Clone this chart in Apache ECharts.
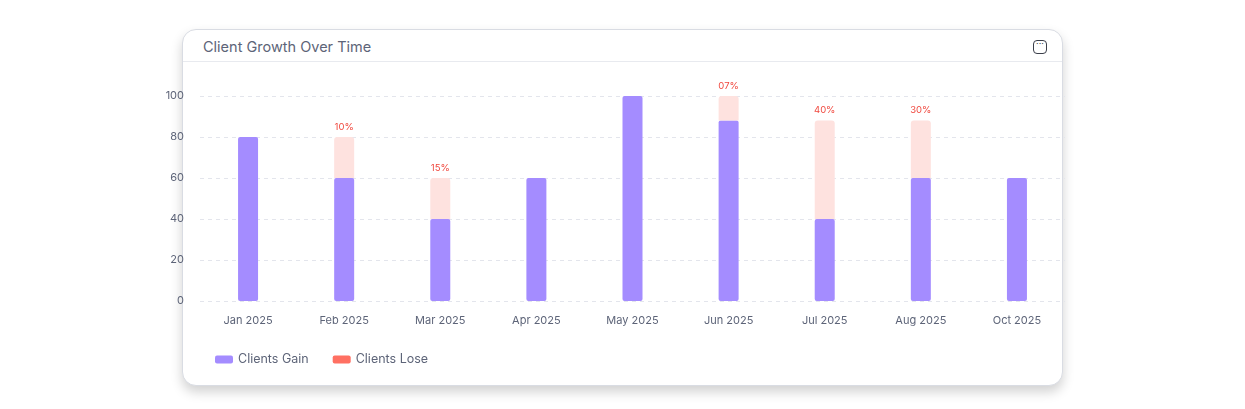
<!DOCTYPE html><html><head><meta charset="utf-8">
<script src="https://cdn.jsdelivr.net/npm/echarts@6/dist/echarts.min.js"></script>
<style>
body{margin:0;background:#fff;font-family:Inter,"Noto Sans",sans-serif;}
#card{position:absolute;left:182px;top:29px;width:879px;height:355px;border:1px solid #d9dce3;border-radius:14px;box-shadow:0 6px 12px rgba(0,0,0,0.18);background:#fff;overflow:hidden}
#hdr{height:31px;border-bottom:1px solid #e8eaef;}
#title{position:absolute;left:20px;top:8px;font-size:14.5px;color:#5d6478}
#icon{position:absolute;right:15px;top:10px;width:12px;height:12px;border:1.4px solid #3b3f4a;border-radius:4px;font-size:9px;line-height:6px;text-align:center;color:#3b3f4a}
#chart{position:absolute;left:0;top:0;width:1245px;height:409px}
</style></head><body>
<div id="card"><div id="hdr"></div><div id="title">Client Growth Over Time</div><div id="icon">···</div></div>
<div id="chart"></div>
<script>
const categories=["Jan 2025","Feb 2025","Mar 2025","Apr 2025","May 2025","Jun 2025","Jul 2025","Aug 2025","Oct 2025"];
const gain=[80,60,40,60,100,88,40,60,60];
const lose=[0,20,20,0,0,12,48,28,0];
const loseLabels=["","10%","15%","","","07%","40%","30%",""];
const yTicks=[0,20,40,60,80,100];
const c=echarts.init(document.getElementById('chart'));
c.setOption({
 animation:false,
 grid:{left:200,right:180,top:96,bottom:108},
 legend:{left:210,top:348,itemWidth:18,itemHeight:8,itemGap:24,icon:'roundRect',textStyle:{color:'#5d6478',fontSize:12.5,fontFamily:'Inter'},
   data:[{name:'Clients Gain',itemStyle:{color:'#a48cff'}},{name:'Clients Lose',itemStyle:{color:'#ff7062'}}]},
 xAxis:{type:'category',data:categories,axisLine:{show:false},axisTick:{show:false},
   axisLabel:{color:'#5d6478',fontSize:11,margin:14,fontFamily:'Inter'}},
 yAxis:{type:'value',min:0,max:100,interval:20,
   axisLabel:{color:'#5d6478',fontSize:11,margin:16,fontFamily:'Inter'},
   splitLine:{lineStyle:{type:[4,4],color:'#e3e5ec'}}},
 series:[
  {name:'Clients Gain',type:'bar',stack:'a',barWidth:20,data:gain,itemStyle:{color:'#a48cff',borderRadius:[2,2,2,2]}},
  {name:'Clients Lose',type:'bar',stack:'a',barWidth:20,
   data:lose.map((v,i)=>({value:v,label:{show:!!loseLabels[i],formatter:loseLabels[i]}})),
   itemStyle:{color:'#fee2df',borderRadius:[3,3,0,0]},
   label:{position:'top',color:'#f0483e',fontSize:9.5,distance:5,fontFamily:'Inter'}}
 ]
});
</script></body></html>
